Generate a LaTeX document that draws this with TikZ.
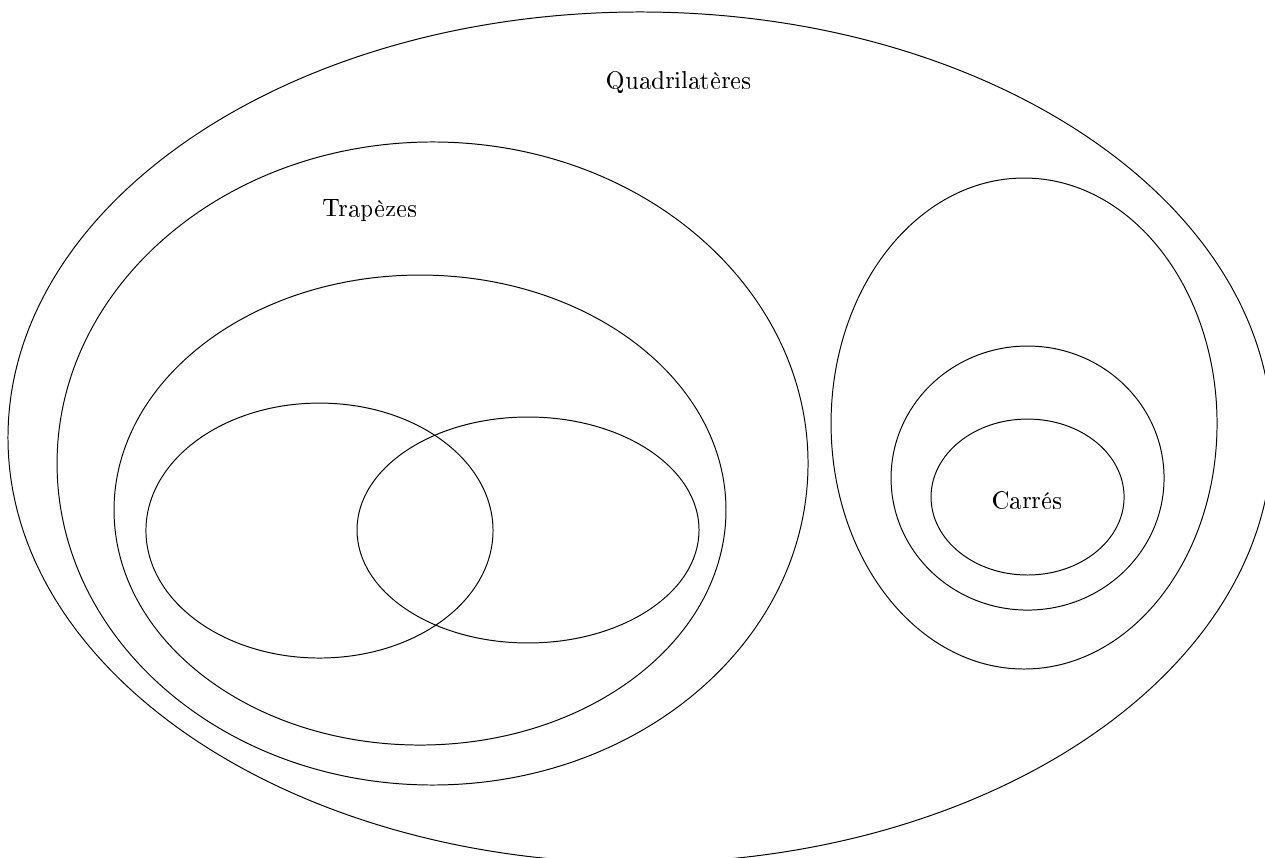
\documentclass[tikz,border=0pt]{standalone}
\usepackage[T1]{fontenc}
\usepackage{tikz}

\begin{document}
\begin{tikzpicture}[ens/.style={draw=black,line width=0.4pt},lbl/.style={font=\normalsize,inner sep=0pt}]
\useasboundingbox (0,0) rectangle (18.071,-12.243);
\begin{scope}
\clip (0,0) rectangle (18.071,-12.243);
\draw[ens] (9.143,-6.25) ellipse (9.029 and 6.079);
\end{scope}
\draw[ens] (6.179,-6.621) ellipse (5.364 and 4.593);
\draw[ens] (6.0,-7.286) ellipse (4.371 and 3.357);
\draw[ens] (4.564,-7.579) ellipse (2.479 and 1.821);
\draw[ens] (7.543,-7.571) ellipse (2.443 and 1.614);
\draw[ens] (14.629,-6.05) ellipse (2.757 and 3.507);
\draw[ens] (14.679,-6.829) ellipse (1.95 and 1.886);
\draw[ens] (14.679,-7.1) ellipse (1.379 and 1.114);
\node[lbl] (quad) at (9.7,-1.171) {Quadrilatères};
\node[lbl] (trap) at (5.286,-3.0) {Trapèzes};
\node[lbl] (carr) at (14.671,-7.143) {Carrés};
\end{tikzpicture}
\end{document}
